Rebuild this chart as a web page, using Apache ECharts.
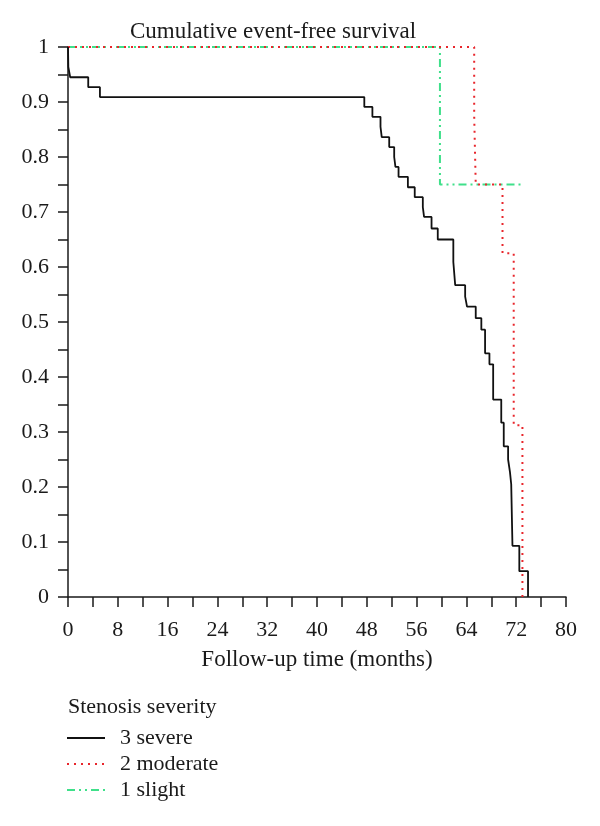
<!DOCTYPE html>
<html>
<head>
<meta charset="utf-8">
<script src="https://cdn.jsdelivr.net/npm/echarts@6/dist/echarts.min.js"></script>
<style>html,body{margin:0;padding:0;background:#fff;}#c{width:600px;height:826px;}</style>
</head>
<body>
<div id="c"></div>
<script>
// ---- data ----
const severeTime = [0, 0.05, 0.35, 3.25, 5.13, 47.6, 48.9, 50.2, 50.4, 51.6, 52.4, 52.6, 53.1, 54.6, 55.7, 57.0, 57.2, 58.4, 59.4, 61.9, 62.2, 63.8, 64.1, 65.5, 66.4, 67.0, 67.7, 68.3, 69.6, 70.0, 70.7, 71.0, 71.2, 71.4, 72.5, 73.9];
const severeSurv = [1, 0.964, 0.945, 0.927, 0.909, 0.891, 0.873, 0.855, 0.836, 0.818, 0.800, 0.782, 0.764, 0.745, 0.727, 0.709, 0.691, 0.670, 0.650, 0.609, 0.567, 0.546, 0.528, 0.507, 0.486, 0.443, 0.423, 0.359, 0.317, 0.274, 0.250, 0.227, 0.205, 0.093, 0.047, 0];
const moderateTime = [0, 65.25, 65.5, 69.8, 71.6, 73.0];
const moderateSurv = [1, 0.875, 0.75, 0.625, 0.3125, 0];
const slightTime = [0, 59.75, 72.7];
const slightSurv = [1, 0.75, 0.75];
const seriesNames = ['3 severe', '2 moderate', '1 slight'];
const xTicks = [0, 8, 16, 24, 32, 40, 48, 56, 64, 72, 80];
const yTicks = [0, 0.1, 0.2, 0.3, 0.4, 0.5, 0.6, 0.7, 0.8, 0.9, 1];

const font = "'Liberation Serif', 'DejaVu Serif', serif";
const ink = '#1a1a1a';
function pairs(t, s) { return t.map((v, i) => [v, s[i]]); }

const chart = echarts.init(document.getElementById('c'), null, {renderer: 'canvas'});
chart.setOption({
  backgroundColor: '#fff',
  animation: false,
  title: {
    text: 'Cumulative event-free survival',
    left: 125, top: 15,
    textStyle: {fontFamily: font, fontSize: 23, fontWeight: 'normal', color: ink}
  },
  grid: {left: 68, right: 34, top: 47, bottom: 229, containLabel: false},
  xAxis: {
    type: 'value', min: xTicks[0], max: xTicks[xTicks.length - 1], interval: 8,
    name: 'Follow-up time (months)', nameLocation: 'middle', nameGap: 51,
    nameTextStyle: {fontFamily: font, fontSize: 23, color: ink},
    axisLine: {show: true, lineStyle: {color: ink, width: 1.5}},
    axisTick: {show: true, length: 10, lineStyle: {color: ink, width: 1.5}},
    minorTick: {show: true, splitNumber: 2, length: 10, lineStyle: {color: ink, width: 1.5}},
    axisLabel: {fontFamily: font, fontSize: 22, color: ink, margin: 22},
    splitLine: {show: false}, minorSplitLine: {show: false}
  },
  yAxis: {
    type: 'value', min: yTicks[0], max: yTicks[yTicks.length - 1], interval: 0.1,
    axisLine: {show: true, lineStyle: {color: ink, width: 1.5}},
    axisTick: {show: true, length: 10, lineStyle: {color: ink, width: 1.5}},
    minorTick: {show: true, splitNumber: 2, length: 10, lineStyle: {color: ink, width: 1.5}},
    axisLabel: {fontFamily: font, fontSize: 22, color: ink, margin: 19,
      formatter: v => String(Math.round(v * 10) / 10)},
    splitLine: {show: false}, minorSplitLine: {show: false}
  },
  legend: {
    orient: 'vertical', left: 61, top: 722, itemGap: 4,
    itemWidth: 38, itemHeight: 14,
    data: seriesNames,
    itemStyle: {opacity: 0},
    textStyle: {fontFamily: font, fontSize: 22, color: ink, padding: [0, 0, 0, 10]}
  },
  graphic: [{
    type: 'text', left: 68, top: 696,
    style: {text: 'Stenosis severity', font: '22px ' + font, fill: ink}
  }],
  series: [
    {name: seriesNames[0], type: 'line', step: 'end', symbol: 'none', data: pairs(severeTime, severeSurv),
      lineStyle: {color: '#111', width: 1.8}, itemStyle: {color: '#111'}, z: 3},
    {name: seriesNames[1], type: 'line', step: 'end', symbol: 'none', data: pairs(moderateTime, moderateSurv),
      lineStyle: {color: '#e8262c', width: 2, type: [2, 5]}, itemStyle: {color: '#e8262c'}, z: 2},
    {name: seriesNames[2], type: 'line', step: 'end', symbol: 'none', data: pairs(slightTime, slightSurv),
      lineStyle: {color: '#3fe08a', width: 2, type: [8, 4, 2, 4, 2, 4]}, itemStyle: {color: '#3fe08a'}, z: 1}
  ]
});
</script>
</body>
</html>
